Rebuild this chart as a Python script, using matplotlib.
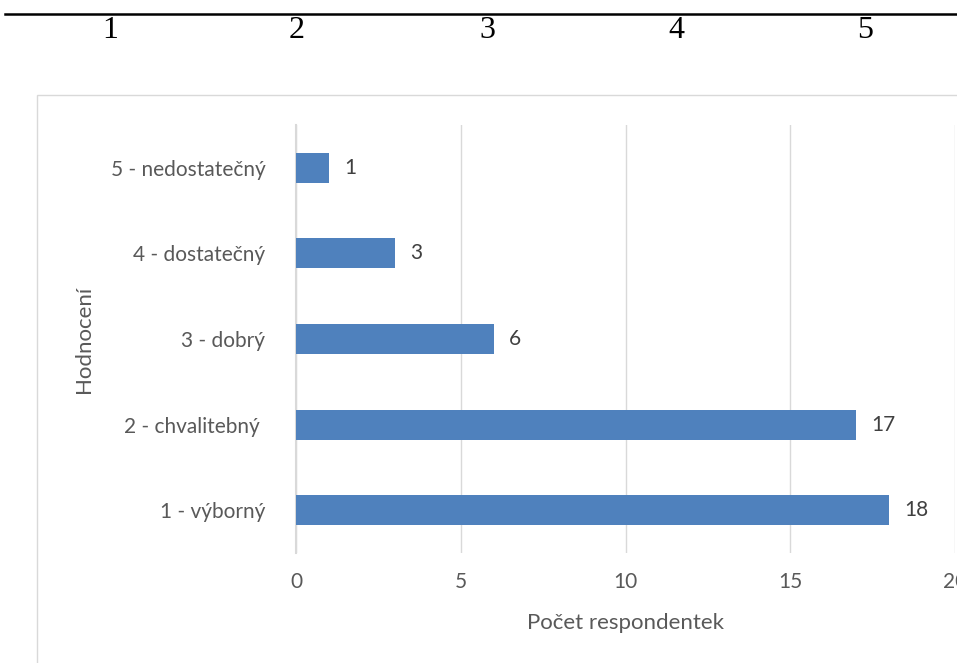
import matplotlib.pyplot as plt
from matplotlib.lines import Line2D
from matplotlib.patches import Rectangle

# data: grades and number of respondents
CATEGORIES = ['1 - výborný', '2 - chvalitebný ', '3 - dobrý', '4 - dostatečný', '5 - nedostatečný']
COUNTS = [18, 17, 6, 3, 1]
HEADER_NUMS = ['1', '2', '3', '4', '5']
X_TICKS = [0, 5, 10, 15, 20]

BAR_COLOR = '#4F81BD'
GRID_COLOR = '#D9D9D9'
TEXT_COLOR = '#595959'
FONT = 'Lato'

fig = plt.figure(figsize=(9.57, 6.63), dpi=100)

# table header row above the chart
fig.add_artist(Line2D([5 / 957, 1], [1 - 14 / 663, 1 - 14 / 663],
                      color='black', linewidth=1.8, transform=fig.transFigure))
for num, xp in zip(HEADER_NUMS, [110, 297, 487, 676, 865]):
    fig.text(xp / 957, 1 - 31 / 663, num, family='Liberation Serif', fontsize=23,
             ha='center', va='center', color='black')

# chart area frame
fig.add_artist(Rectangle((37 / 957, -0.1), 1.2, 1.1 - 95 / 663, transform=fig.transFigure,
                         fill=False, edgecolor=GRID_COLOR, linewidth=1.0))

ax = fig.add_axes([296 / 957, 1 - 553 / 663, (955 - 296) / 957, (553 - 125) / 663])
y = range(len(CATEGORIES))
bars = ax.barh(y, COUNTS, height=0.35, color=BAR_COLOR, zorder=3)
for b, v in zip(bars, COUNTS):
    ax.text(b.get_width() + 0.45, b.get_y() + b.get_height() / 2, str(v),
            va='center', ha='left', fontsize=15, color='#404040', family=FONT)

ax.set_xlim(0, 20)
ax.set_ylim(-0.5, 4.5)
ax.set_yticks(list(y))
ax.set_yticklabels(CATEGORIES, family=FONT, fontsize=15, color=TEXT_COLOR)
ax.set_xticks(X_TICKS)
ax.set_xticklabels([str(t) for t in X_TICKS], family=FONT, fontsize=15, color=TEXT_COLOR)
ax.tick_params(axis='y', length=0, pad=22)
ax.tick_params(axis='x', length=0, pad=14)
ax.grid(axis='x', color=GRID_COLOR, linewidth=1.0, zorder=0)
for side in ['top', 'right', 'bottom']:
    ax.spines[side].set_visible(False)
ax.spines['left'].set_color(GRID_COLOR)
ax.spines['left'].set_linewidth(1.5)

ax.set_xlabel('Počet respondentek', family=FONT, fontsize=16, color=TEXT_COLOR, labelpad=15)
ax.set_ylabel('Hodnocení', family=FONT, fontsize=16, color=TEXT_COLOR, labelpad=12)

fig.savefig('out.png', dpi=100)
